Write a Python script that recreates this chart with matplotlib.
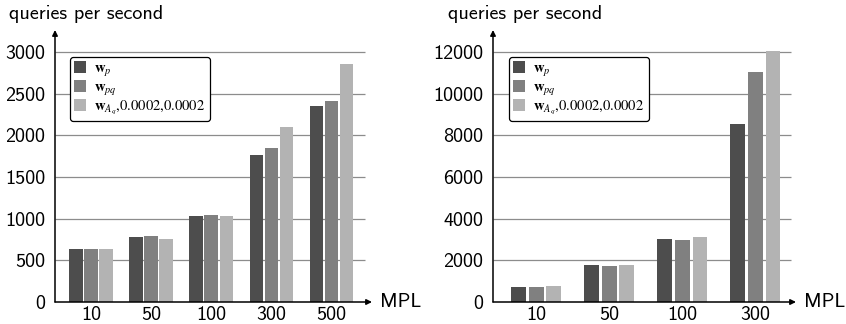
import numpy as np
import matplotlib
matplotlib.use('Agg')
import matplotlib.pyplot as plt
from matplotlib.patches import Patch

plt.rcParams['mathtext.fontset'] = 'stix'

# left chart
mpl_left = ['10', '50', '100', '300', '500']
wp_left = [640, 784, 1036, 1768, 2356]
wpq_left = [640, 796, 1048, 1852, 2416]
waq_left = [640, 760, 1036, 2104, 2860]
yticks_left = [0, 500, 1000, 1500, 2000, 2500, 3000]

# right chart
mpl_right = ['10', '50', '100', '300']
wp_right = [740, 1790, 3040, 8560]
wpq_right = [740, 1710, 2960, 11020]
waq_right = [790, 1760, 3130, 12060]
yticks_right = [0, 2000, 4000, 6000, 8000, 10000, 12000]

labels = [r'$\mathbf{w}_p$', r'$\mathbf{w}_{pq}$', r'$\mathbf{w}_{A_q}$,0.0002,0.0002']
colours = ['#4d4d4d', '#808080', '#b3b3b3']

W, H = 846.0, 324.0
fig = plt.figure(figsize=(W / 100, H / 100), dpi=100)
FS = 14.5


def px_axes(x0, x1, y0, y1):
	return fig.add_axes([x0 / W, 1 - y1 / H, (x1 - x0) / W, (y1 - y0) / H])


def makechart(ax, cats, series, yticks, ytop, xlim, gridend, width, step, legx, labx):
	x = np.arange(len(cats))
	for k, vals in enumerate(series):
		ax.bar(x + (k - 1) * step, vals, width, color=colours[k], zorder=2)
	ax.hlines(yticks[1:], xlim[0], gridend, color='#8c8c8c', lw=0.9, zorder=1)
	ax.set_xlim(xlim)
	ax.set_ylim(0, ytop)
	for s in ax.spines.values():
		s.set_visible(False)
	ax.annotate('', xy=(0, 1), xytext=(0, 0), xycoords='axes fraction',
		arrowprops=dict(arrowstyle='-|>', lw=1.1, color='black', mutation_scale=8, shrinkA=0, shrinkB=0))
	ax.annotate('', xy=(1, 0), xytext=(0, 0), xycoords='axes fraction',
		arrowprops=dict(arrowstyle='-|>', lw=1.1, color='black', mutation_scale=8, shrinkA=0, shrinkB=0))
	ax.set_xticks(x)
	ax.set_xticklabels(cats, fontfamily='cmss10', fontsize=FS)
	ax.set_yticks(yticks)
	ax.set_yticklabels([str(t) for t in yticks], fontfamily='cmss10', fontsize=FS)
	ax.tick_params(length=0)
	ax.tick_params(axis='y', pad=7)
	ax.tick_params(axis='x', pad=3)
	fig.text(labx / W, 1 - 14 / H, 'queries per second', fontfamily='cmss10', fontsize=FS,
		va='center', ha='left')
	ax.annotate('MPL', xy=(1, 0), xycoords='axes fraction', xytext=(8, 0), textcoords='offset pixels',
		fontfamily='cmss10', fontsize=FS, va='center', ha='left', annotation_clip=False)
	handles = [Patch(facecolor=c, edgecolor='none') for c in colours]
	leg = ax.legend(handles, labels, loc='upper left', bbox_to_anchor=(legx / W, 1 - 57 / H),
		bbox_transform=fig.transFigure, prop={'family': 'STIXGeneral', 'size': 10.5},
		handlelength=0.8, handleheight=0.85, handletextpad=0.55, labelspacing=0.12,
		borderpad=0.3, borderaxespad=0, fancybox=True, framealpha=1, edgecolor='black')
	leg.get_frame().set_linewidth(0.9)
	leg.set_zorder(5)


ax1 = px_axes(55, 372, 30, 302)
makechart(ax1, mpl_left, [wp_left, wpq_left, waq_left], yticks_left, 3000 * 272 / 250.0,
	(-0.6, 4.683), 4.567, 0.217, 0.25, 70, 9)

ax2 = px_axes(493, 796, 30, 302)
makechart(ax2, mpl_right, [wp_right, wpq_right, waq_right], yticks_right, 12000 * 272 / 250.0,
	(-0.59, 3.56), 3.49, 0.205, 0.245, 509, 448)

fig.savefig('out.png', dpi=100)
